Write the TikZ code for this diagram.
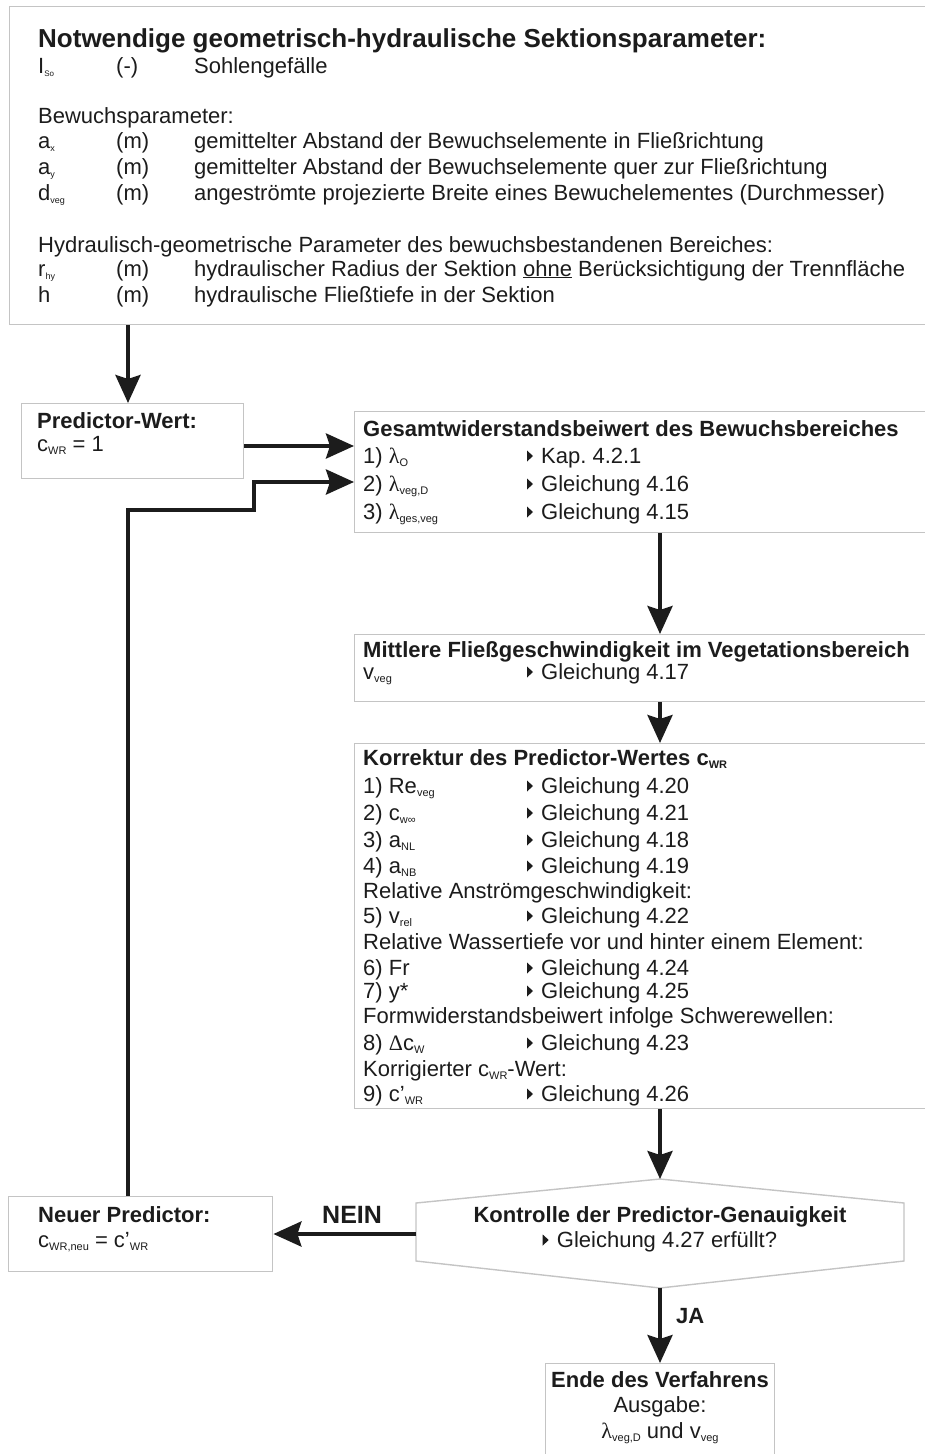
\documentclass[tikz,border=0pt]{standalone}
\usepackage{fontspec}
\setmainfont{Liberation Sans}
\newfontfamily\grk{Liberation Serif}
\usetikzlibrary{arrows.meta}
\definecolor{ink}{HTML}{1C1C1C}
\definecolor{framegray}{HTML}{C4C4C4}
\frenchspacing
% small lowered index text
\newcommand\sbs[2][11]{\raisebox{-3.5pt}{\fontsize{#1}{#1}\selectfont #2}}
\newcommand\lam{{\grk λ}}
\begin{document}
\begin{tikzpicture}[x=1pt,y=-1pt,
  panel/.style={draw=framegray, line width=1.4pt, fill=white, inner sep=0pt, anchor=north west},
  t/.style={anchor=base west, inner sep=0pt, text=ink, font=\fontsize{22}{26}\selectfont},
  hd/.style={t, font=\bfseries\fontsize{22}{26}\selectfont},
  ctr/.style={anchor=base, inner sep=0pt, text=ink, font=\fontsize{22}{26}\selectfont},
  ctrhd/.style={ctr, font=\bfseries\fontsize{22}{26}\selectfont},
  arr/.style={draw=ink, line width=4pt, -{Stealth[length=28pt,width=25pt,inset=4pt]}},
  ptr/.pic={\fill[ink] (-14,-1.5) -- (-14,-12.5) -- (-8,-7) -- cycle;}]
\useasboundingbox (0,0) rectangle (925,1454);

% ---------- panels ----------
\node[panel, minimum width=940pt, minimum height=318pt] (top) at (9,6) {};
\node[panel, minimum width=222pt, minimum height=75pt] (pred) at (21,403) {};
\node[panel, minimum width=590pt, minimum height=121pt] (ges) at (354,411) {};
\node[panel, minimum width=590pt, minimum height=67pt] (mit) at (354,634) {};
\node[panel, minimum width=590pt, minimum height=365pt] (kor) at (354,743) {};
\node[panel, minimum width=264pt, minimum height=75pt] (neu) at (8,1196) {};
\node[panel, minimum width=229pt, minimum height=120pt] (ende) at (545,1363) {};

% decision hexagon
\coordinate (hT) at (660,1179);
\coordinate (hUR) at (904,1203);
\coordinate (hLR) at (904,1261);
\coordinate (hB) at (660,1288);
\coordinate (hLL) at (416,1261);
\coordinate (hUL) at (416,1203);
\coordinate (hW) at (416,1234);
\draw[draw=framegray, line width=1.4pt, fill=white] (hT) -- (hUR) -- (hLR) -- (hB) -- (hLL) -- (hUL) -- cycle;

% ---------- section parameters ----------
\node[hd, font=\bfseries\fontsize{26}{30}\selectfont] (t0) at (38,47) {Notwendige geometrisch-hydraulische Sektionsparameter:};
\node[t] (p1a) at (38,73) {I\sbs[8]{So}};
\node[t] (p1b) at (116,73) {(-)};
\node[t] (p1c) at (194,73) {Sohlengefälle};
\node[t] (p2) at (38,123) {Bewuchsparameter:};
\node[t] (p3a) at (38,148) {a\sbs[9]{x}};
\node[t] (p3b) at (116,148) {(m)};
\node[t] (p3c) at (194,148) {gemittelter Abstand der Bewuchselemente in Fließrichtung};
\node[t] (p4a) at (38,174) {a\sbs[9]{y}};
\node[t] (p4b) at (116,174) {(m)};
\node[t] (p4c) at (194,174) {gemittelter Abstand der Bewuchselemente quer zur Fließrichtung};
\node[t] (p5a) at (38,200) {d\sbs[9]{veg}};
\node[t] (p5b) at (116,200) {(m)};
\node[t] (p5c) at (194,200) {angeströmte projezierte Breite eines Bewuchelementes (Durchmesser)};
\node[t] (p6) at (38,252) {Hydraulisch-geometrische Parameter des bewuchsbestandenen Bereiches:};
\node[t] (p7a) at (38,276) {r\sbs[9]{hy}};
\node[t] (p7b) at (116,276) {(m)};
\node[t] (p7c) at (194,276) {hydraulischer Radius der Sektion \underline{ohne} Berücksichtigung der Trennfläche};
\node[t] (p8a) at (38,302) {h};
\node[t] (p8b) at (116,302) {(m)};
\node[t] (p8c) at (194,302) {hydraulische Fließtiefe in der Sektion};

% ---------- predictor ----------
\node[hd] (pr1) at (37,428) {Predictor-Wert:};
\node[t] (pr2) at (37,451) {c\sbs{WR} = 1};

% ---------- total resistance ----------
\node[hd] (g0) at (363,436) {Gesamtwiderstandsbeiwert des Bewuchsbereiches};
\node[t] (g1a) at (363,463) {1) \lam\sbs{O}};
\node[t] (g1b) at (541,463) {Kap. 4.2.1};
\node[t] (g2a) at (363,491) {2) \lam\sbs{veg,D}};
\node[t] (g2b) at (541,491) {Gleichung 4.16};
\node[t] (g3a) at (363,519) {3) \lam\sbs{ges,veg}};
\node[t] (g3b) at (541,519) {Gleichung 4.15};

% ---------- mean velocity ----------
\node[hd] (m0) at (363,657) {Mittlere Fließgeschwindigkeit im Vegetationsbereich};
\node[t] (m1a) at (363,679) {v\sbs{veg}};
\node[t] (m1b) at (541,679) {Gleichung 4.17};

% ---------- correction ----------
\node[hd] (k0) at (363,765) {Korrektur des Predictor-Wertes c\sbs{WR}};
\node[t] (k1a) at (363,793) {1) Re\sbs{veg}};
\node[t] (k1b) at (541,793) {Gleichung 4.20};
\node[t] (k2a) at (363,820) {2) c\sbs{w∞}};
\node[t] (k2b) at (541,820) {Gleichung 4.21};
\node[t] (k3a) at (363,847) {3) a\sbs{NL}};
\node[t] (k3b) at (541,847) {Gleichung 4.18};
\node[t] (k4a) at (363,873) {4) a\sbs{NB}};
\node[t] (k4b) at (541,873) {Gleichung 4.19};
\node[t] (k5) at (363,898) {Relative Anströmgeschwindigkeit:};
\node[t] (k6a) at (363,923) {5) v\sbs{rel}};
\node[t] (k6b) at (541,923) {Gleichung 4.22};
\node[t] (k7) at (363,949) {Relative Wassertiefe vor und hinter einem Element:};
\node[t] (k8a) at (363,975) {6) Fr};
\node[t] (k8b) at (541,975) {Gleichung 4.24};
\node[t] (k9a) at (363,998) {7) y*};
\node[t] (k9b) at (541,998) {Gleichung 4.25};
\node[t] (k10) at (363,1023) {Formwiderstandsbeiwert infolge Schwerewellen:};
\node[t] (k11a) at (363,1050) {8) {\grk Δ}c\sbs{W}};
\node[t] (k11b) at (541,1050) {Gleichung 4.23};
\node[t] (k12) at (363,1076) {Korrigierter c\sbs{WR}-Wert:};
\node[t] (k13a) at (363,1101) {9) c'\sbs{WR}};
\node[t] (k13b) at (541,1101) {Gleichung 4.26};

% ---------- check ----------
\node[ctrhd] (h1) at (660,1222) {Kontrolle der Predictor-Genauigkeit};
\node[ctr] (h2) at (667,1247) {Gleichung 4.27 erfüllt?};

% pointer triangles in front of the references
\foreach \n in {g1b,g2b,g3b,m1b,k1b,k2b,k3b,k4b,k6b,k8b,k9b,k11b,k13b,h2}
  \pic at (\n.base west) {ptr};

% ---------- new predictor ----------
\node[hd] (n1) at (38,1222) {Neuer Predictor:};
\node[t] (n2) at (38,1247) {c\sbs{WR,neu} = c'\sbs{WR}};

% ---------- end ----------
\node[ctrhd] (e1) at (660,1387) {Ende des Verfahrens};
\node[ctr] (e2) at (660,1412) {Ausgabe:};
\node[ctr] (e3) at (660,1438) {\lam\sbs{veg,D} und v\sbs{veg}};

% ---------- connectors ----------
\coordinate (cL) at (128,0);
\coordinate (cR) at (660,0);
\coordinate (r1) at (0,446);
\coordinate (r2) at (0,482);
\coordinate (kink) at (254,510);
\draw[arr] (top.south -| cL) -- (pred.north -| cL);
\draw[arr] (pred.east |- r1) -- (ges.west |- r1);
\draw[arr] (neu.north -| cL) |- (kink) |- (ges.west |- r2);
\draw[arr] (ges.south -| cR) -- (mit.north -| cR);
\draw[arr] (mit.south -| cR) -- (kor.north -| cR);
\draw[arr] (kor.south -| cR) -- (hT);
\draw[arr] (hW) -- (neu.east |- hW);
\draw[arr] (hB) -- (ende.north -| hB);
\node[hd, font=\bfseries\fontsize{25}{28}\selectfont] (nein) at (322,1223) {NEIN};
\node[hd] (ja) at (676,1323) {JA};
\end{tikzpicture}
\end{document}
